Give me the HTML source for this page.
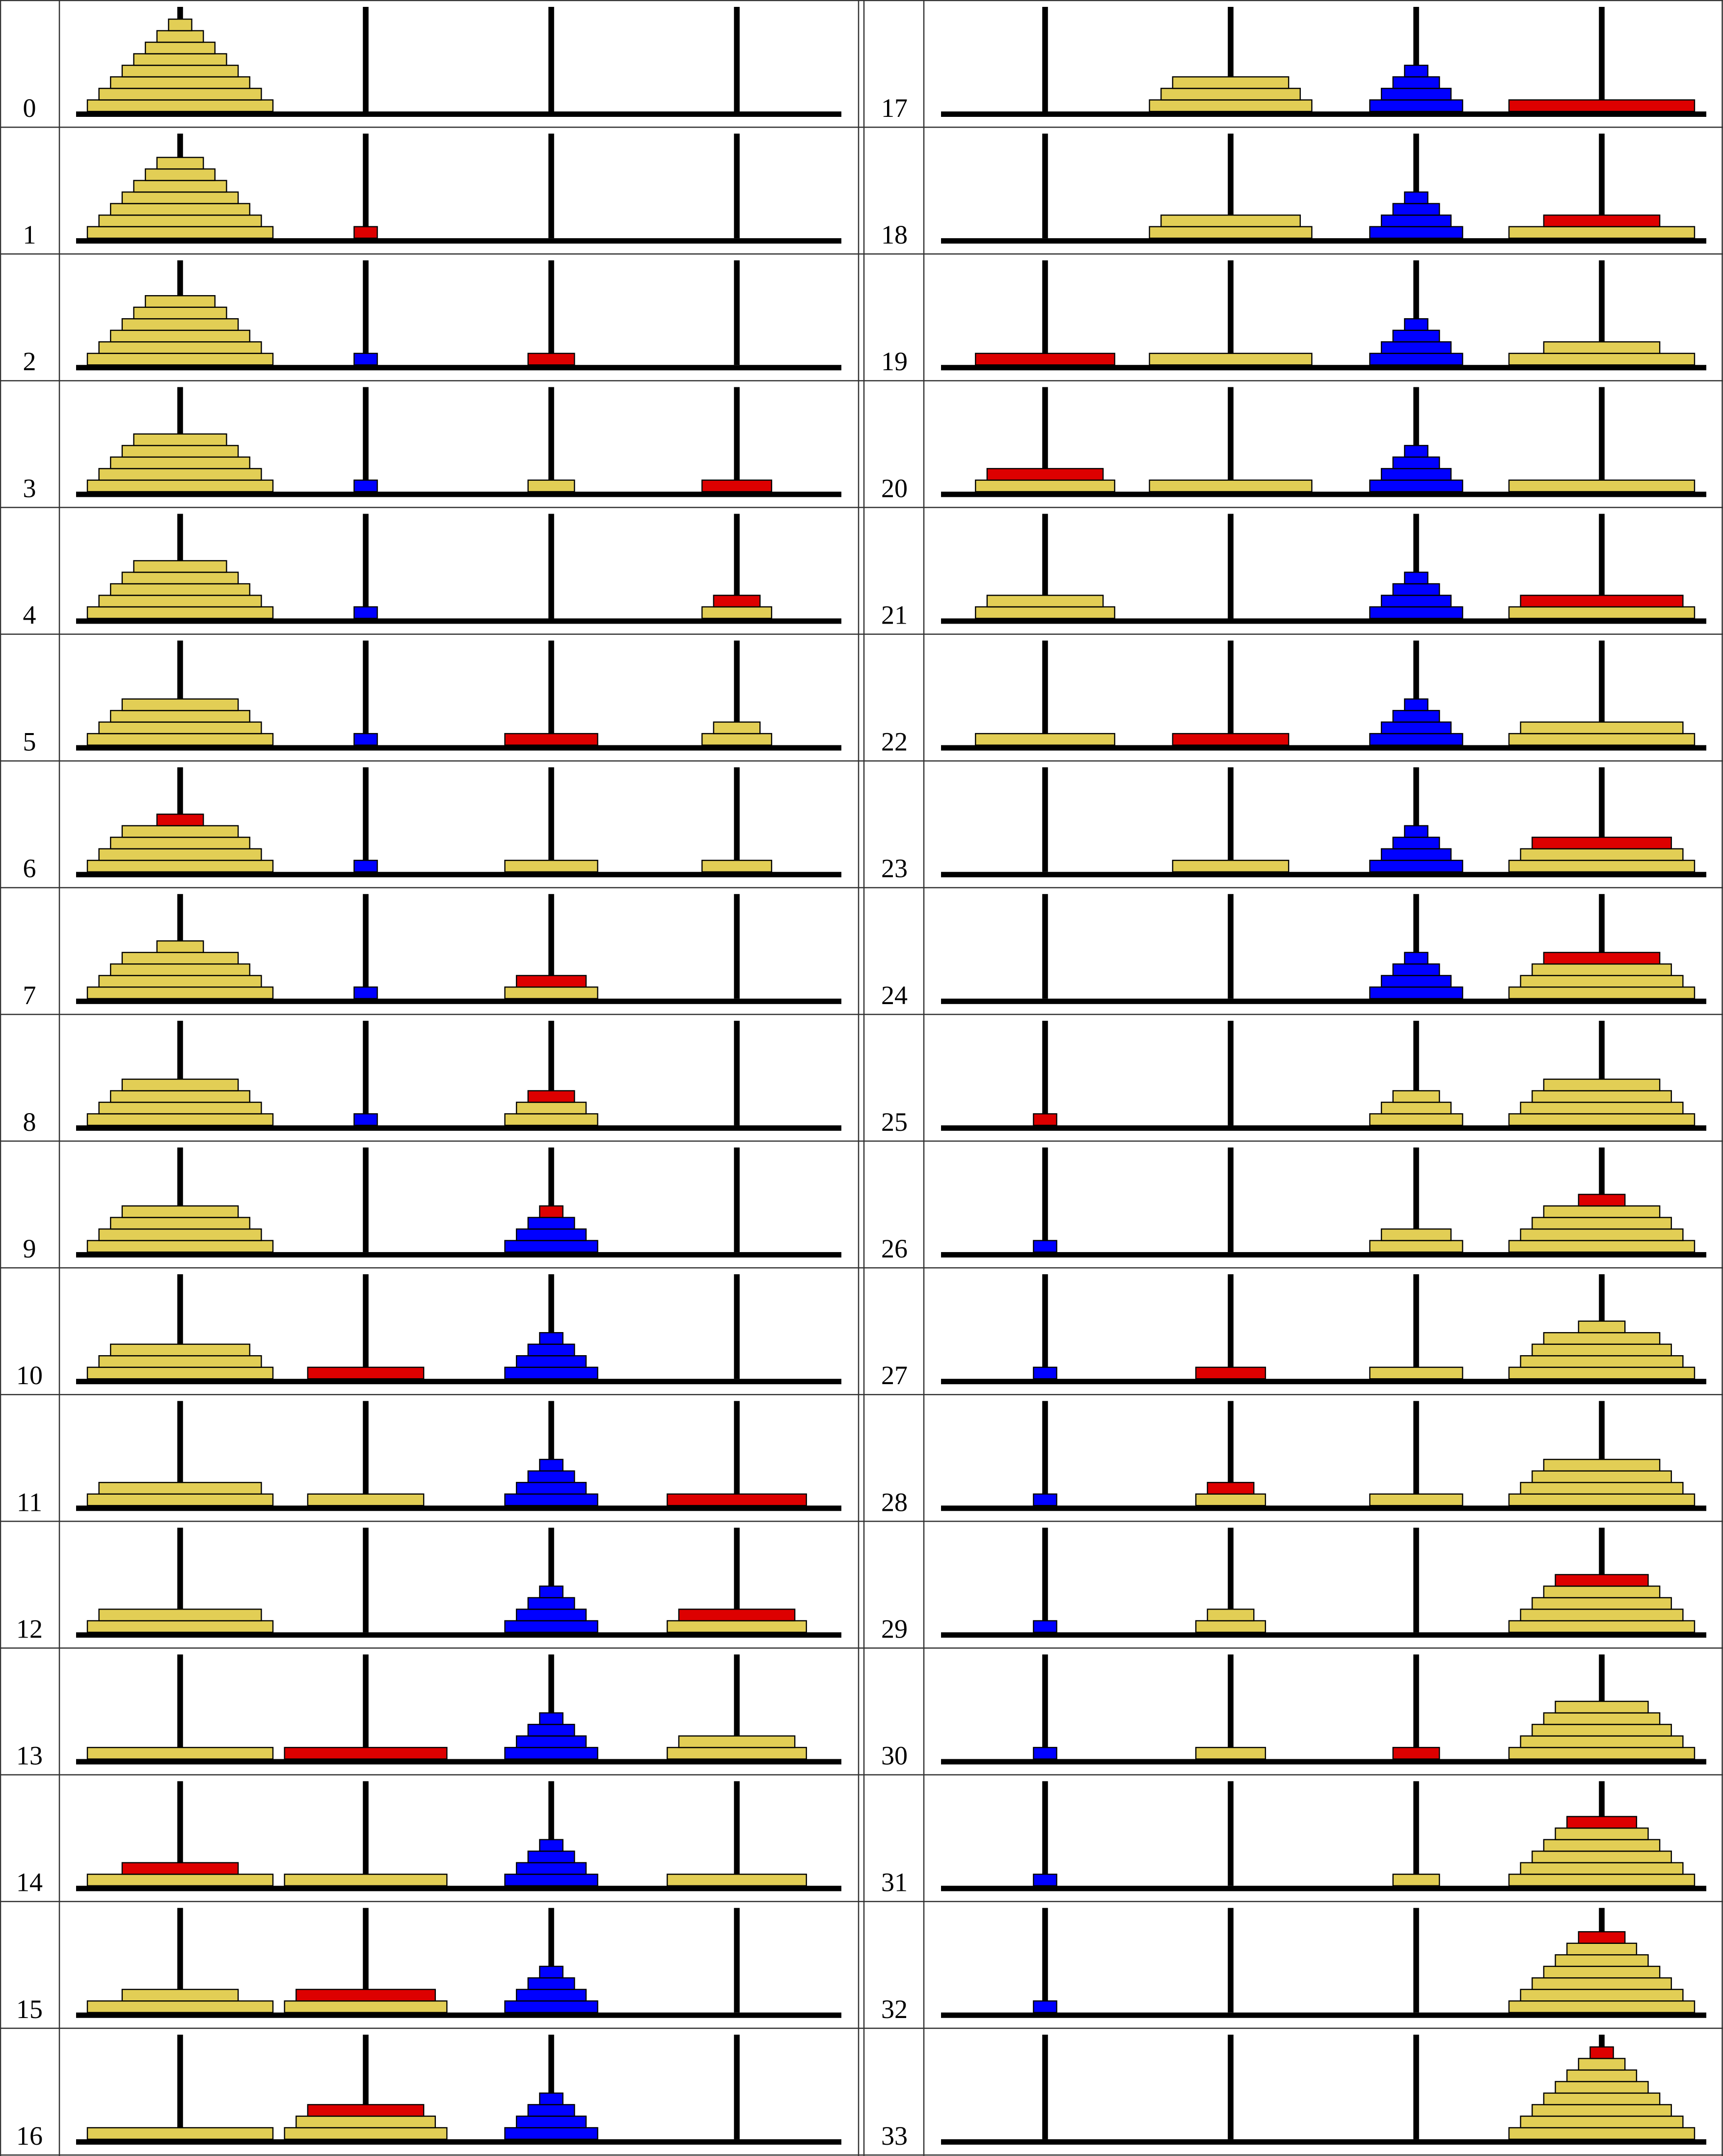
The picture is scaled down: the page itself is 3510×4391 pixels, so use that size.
<!DOCTYPE html>
<html><head><meta charset="utf-8">
<style>
html,body{margin:0;padding:0;background:#fff;}
svg{display:block;}
</style></head>
<body>
<svg id="chart" xmlns="http://www.w3.org/2000/svg" width="3510" height="4391" viewBox="0 0 3510 4391"></svg>
<script>
// states: per step, 4 pegs, disks bottom->top as size+color (y=yellow,b=blue,r=red)
const B = "4b3b2b1b";
const states = [
["8y7y6y5y4y3y2y1y","","",""],
["8y7y6y5y4y3y2y","1r","",""],
["8y7y6y5y4y3y","1b","2r",""],
["8y7y6y5y4y","1b","2y","3r"],
["8y7y6y5y4y","1b","","3y2r"],
["8y7y6y5y","1b","4r","3y2y"],
["8y7y6y5y2r","1b","4y","3y"],
["8y7y6y5y2y","1b","4y3r",""],
["8y7y6y5y","1b","4y3y2r",""],
["8y7y6y5y","","4b3b2b1r",""],
["8y7y6y","5r",B,""],
["8y7y","5y",B,"6r"],
["8y7y","",B,"6y5r"],
["8y","7r",B,"6y5y"],
["8y5r","7y",B,"6y"],
["8y5y","7y6r",B,""],
["8y","7y6y5r",B,""],
["","7y6y5y",B,"8r"],
["","7y6y",B,"8y5r"],
["6r","7y",B,"8y5y"],
["6y5r","7y",B,"8y"],
["6y5y","",B,"8y7r"],
["6y","5r",B,"8y7y"],
["","5y",B,"8y7y6r"],
["","",B,"8y7y6y5r"],
["1r","","4y3y2y","8y7y6y5y"],
["1b","","4y3y","8y7y6y5y2r"],
["1b","3r","4y","8y7y6y5y2y"],
["1b","3y2r","4y","8y7y6y5y"],
["1b","3y2y","","8y7y6y5y4r"],
["1b","3y","2r","8y7y6y5y4y"],
["1b","","2y","8y7y6y5y4y3r"],
["1b","","","8y7y6y5y4y3y2r"],
["","","","8y7y6y5y4y3y2y1r"]
];
const stepLabels = states.map((s,i)=>String(i));

const NS="http://www.w3.org/2000/svg";
const svg=document.getElementById('chart');
const ROWS=17, ROWH=(4389-1)/ROWS, TOP=1;
const colX=[0,1762];
const pegX=[367,745,1123,1501];
const UNIT=47.25, DH=23.5, BASEY=226;
const COLORS={y:"#e2ce55",b:"#0000ff",r:"#dd0000"};
function mk(tag,attrs){const e=document.createElementNS(NS,tag);for(const k in attrs)e.setAttribute(k,attrs[k]);svg.appendChild(e);return e;}
function diskX(peg,size,ox){return ox+pegX[peg]-size*UNIT/2;}
function diskY(level,rowTop){return rowTop+BASEY-(level+1)*DH;}

states.forEach((st,i)=>{
  const col=i<ROWS?0:1, row=i%ROWS;
  const ox=colX[col], rowTop=TOP+row*ROWH;
  const lab=mk('text',{x:ox+60,y:rowTop+237,'text-anchor':'middle','font-family':'"Liberation Serif",serif','font-size':'54',fill:'#000'});
  lab.textContent=stepLabels[i];
  
  
  for(let p=0;p<4;p++){
    const peg=mk('rect',{x:ox+pegX[p]-5.8,y:rowTop+13,width:11.6,height:BASEY-13,fill:'#000'});
    
    
  }
  const base=mk('rect',{x:ox+155,y:rowTop+BASEY,width:1559,height:11,fill:'#000'});
  
  
  st.forEach((s,p)=>{
    const disks=s.match(/\d[ybr]/g)||[];
    disks.forEach((d,lvl)=>{
      const size=+d[0], c=d[1];
      const r=mk('rect',{x:diskX(p,size,ox),y:diskY(lvl,rowTop),width:size*UNIT,height:DH,fill:COLORS[c],stroke:'#000','stroke-width':2.4});
      
      
    });
  });
});
// grid lines
for(let r=0;r<=ROWS;r++){
  const y=TOP+r*ROWH;
  const l=mk('line',{x1:0,x2:3510,y1:y,y2:y,stroke:'#333','stroke-width':2.5});
  
  
}
[1,121,1749,1760,1882,3508.5].forEach(x=>{
  const l=mk('line',{x1:x,x2:x,y1:0,y2:4391,stroke:'#333','stroke-width':2.5});
  
  
});
</script>
</body></html>
